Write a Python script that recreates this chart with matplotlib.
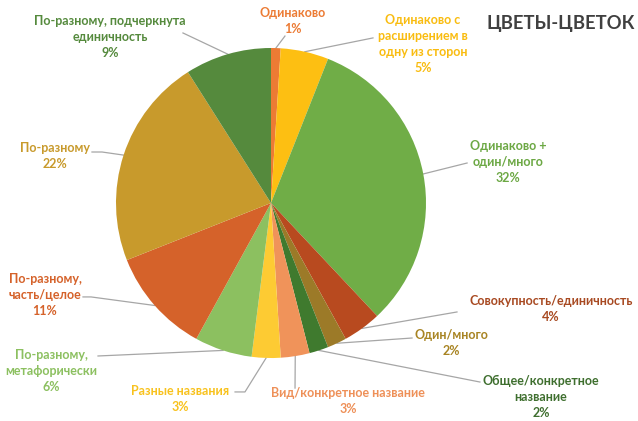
import numpy as np
import matplotlib.pyplot as plt

plt.rcParams['font.family'] = ['Lato', 'DejaVu Sans']

# share of each way of naming, clockwise from 12 o'clock
labels = [
    "Одинаково",
    "Одинаково с\nрасширением в\nодну из сторон",
    "Одинаково +\nодин/много",
    "Совокупность/единичность",
    "Один/много",
    "Общее/конкретное\nназвание",
    "Вид/конкретное название",
    "Разные названия",
    "По-разному,\nметафорически",
    "По-разному,\nчасть/целое",
    "По-разному",
    "По-разному, подчеркнута\nединичность",
]
shares = [1, 5, 32, 4, 2, 2, 3, 3, 6, 11, 22, 9]

wedge_colors = ["#EC7B34", "#FDBF12", "#70AD47", "#B84A1F", "#9C7A28", "#3F7A2E",
                "#F0935A", "#FDCB33", "#8CC060", "#D5622A", "#C89A2C", "#558A3D"]
text_colors = ["#EC7B34", "#F9BC10", "#6CA844", "#A84A22", "#A88423", "#3F6F2F",
               "#EE9058", "#F8C21E", "#8CC060", "#D5622A", "#C89A2C", "#558A3D"]

# label centres and leader-line bends, in pie-radius units
label_pos = [(0.142, 1.174), (0.981, 1.026), (1.529, 0.265), (1.806, -0.684),
             (1.161, -0.903), (1.742, -1.252), (0.497, -1.277), (-0.587, -1.265),
             (-1.419, -1.084), (-1.458, -0.594), (-1.394, 0.303), (-1.039, 1.071)]
leader_ends = [[(0.09, 1.077)], [(0.658, 1.065)], [(1.265, 0.258)], [(1.2, -0.703)],
               [(0.91, -0.871)], [(1.348, -1.155)], [(0.155, -1.194)],
               [(-0.168, -1.219), (-0.232, -1.219)], [(-1.116, -0.987)],
               [(-1.161, -0.606), (-1.213, -0.606)], [(-1.09, 0.329), (-1.155, 0.329)],
               [(-0.568, 1.097)]]

fig = plt.figure(figsize=(6.38, 4.21), dpi=100)
ax = fig.add_axes([116 / 638, 63 / 421, 310 / 638, 310 / 421])
wedges, _ = ax.pie(shares, colors=wedge_colors, startangle=90, counterclock=False,
                   radius=1.0, wedgeprops=dict(linewidth=0))
ax.set_xlim(-1, 1)
ax.set_ylim(-1, 1)
ax.set_aspect('equal')
ax.axis('off')

for i, w in enumerate(wedges):
    mid = np.deg2rad((w.theta1 + w.theta2) / 2)
    pts = [(np.cos(mid), np.sin(mid))] + leader_ends[i]
    xs, ys = zip(*pts)
    ax.plot(xs, ys, color="#A6A6A6", lw=0.9, clip_on=False, zorder=0.5)
    ax.text(label_pos[i][0], label_pos[i][1], f"{labels[i]}\n{shares[i]}%",
            ha='center', va='center', fontsize=9, fontweight='bold',
            color=text_colors[i], linespacing=1.4, clip_on=False)

fig.text(561 / 638, 1 - 23 / 421, "ЦВЕТЫ-ЦВЕТОК", ha='center', va='center',
         fontsize=13.2, fontweight='bold', color="#404040")

plt.savefig("out.png", dpi=100)
